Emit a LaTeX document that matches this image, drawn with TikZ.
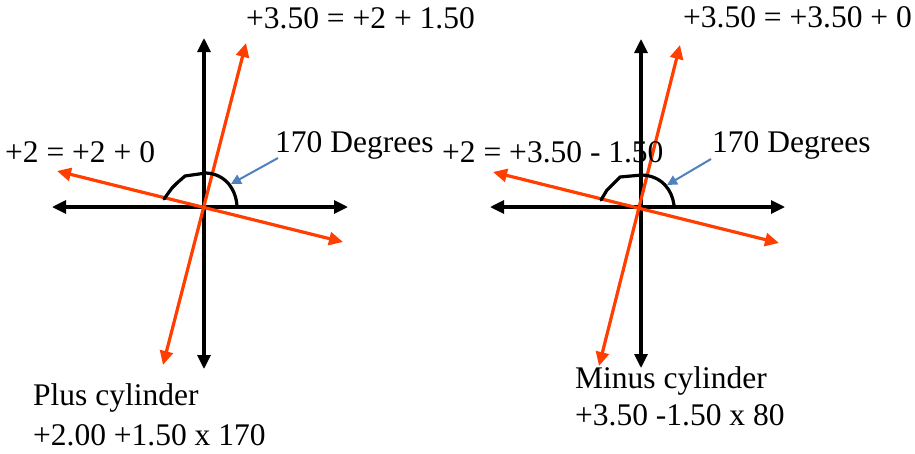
\documentclass[tikz,border=0pt]{standalone}
\usepackage{fontspec}
\setmainfont{Liberation Serif}
\usetikzlibrary{arrows.meta}
\definecolor{lensred}{RGB}{255,62,0}
\definecolor{degblue}{RGB}{79,129,189}
\tikzset{
  axis/.style={{Triangle[length=14pt,width=13pt]}-{Triangle[length=14pt,width=13pt]}, line width=3.2pt, color=black},
  meridian/.style={{Triangle[length=14pt,width=13pt]}-{Triangle[length=14pt,width=13pt]}, line width=3.2pt, color=lensred},
  angarc/.style={line width=3.2pt, color=black, line join=round, line cap=round},
  degarrow/.style={-{Triangle[length=10pt,width=10pt]}, line width=2pt, color=degblue},
  lbl/.style={anchor=base west, inner sep=0pt, font=\fontsize{31.5}{38}\selectfont}
}
\begin{document}
\begin{tikzpicture}[x=1pt,y=-1pt]
  \useasboundingbox (0,0) rectangle (915,453);
  % left: plus cylinder
  \coordinate (lt) at (204,38);   \coordinate (lb) at (204,369);
  \coordinate (ll) at (52,207);   \coordinate (lr) at (348,207);
  \coordinate (lst) at (246,43);  \coordinate (lsb) at (163,365);
  \coordinate (lfl) at (57,171);  \coordinate (lfr) at (343,242);
  \draw[axis] (lb) -- (lt);
  \draw[axis] (ll) -- (lr);
  \draw[meridian] (lsb) -- (lst);
  \draw[meridian] (lfl) -- (lfr);
  \draw[angarc] (164,199) -- (172,188) -- (177,183) -- (185,176) -- (206,173)
    .. controls (226,174) and (236,190) .. (237,206);
  \node[lbl] (lsteep) at (246,28) {+3.50 = +2 + 1.50};
  \node[lbl] (lflat) at (5,162) {+2 = +2 + 0};
  \node[lbl] (ldeg) at (275,152) {170 Degrees};
  \node[lbl] (lname) at (33,405) {Plus cylinder};
  \node[lbl] (lrx) at (33,445) {+2.00 +1.50 x 170};
  \coordinate (lda) at (231,184);
  \draw[degarrow] (ldeg.base west) ++(3,6) -- (lda);
  % right: minus cylinder
  \coordinate (rt) at (641,39);   \coordinate (rb) at (641,368);
  \coordinate (rl) at (490,207);  \coordinate (rr) at (785,207);
  \coordinate (rst) at (680,45);  \coordinate (rsb) at (599,366);
  \coordinate (rfl) at (493,172); \coordinate (rfr) at (779,243);
  \draw[axis] (rb) -- (rt);
  \draw[axis] (rl) -- (rr);
  \draw[meridian] (rsb) -- (rst);
  \draw[meridian] (rfl) -- (rfr);
  \draw[angarc] (601,200) -- (607,190) -- (614,183) -- (620,177) -- (642,175)
    .. controls (662,176) and (672,190) .. (674,205);
  \node[lbl] (rsteep) at (683,27) {+3.50 = +3.50 + 0};
  \node[lbl] (rflat) at (442,162) {+2 = +3.50 - 1.50};
  \node[lbl] (rdeg) at (712,152) {170 Degrees};
  \node[lbl] (rname) at (575,388) {Minus cylinder};
  \node[lbl] (rrx) at (575,425) {+3.50 -1.50 x 80};
  \coordinate (rda) at (667,185);
  \draw[degarrow] (rdeg.base west) ++(-1,7) -- (rda);
\end{tikzpicture}
\end{document}
